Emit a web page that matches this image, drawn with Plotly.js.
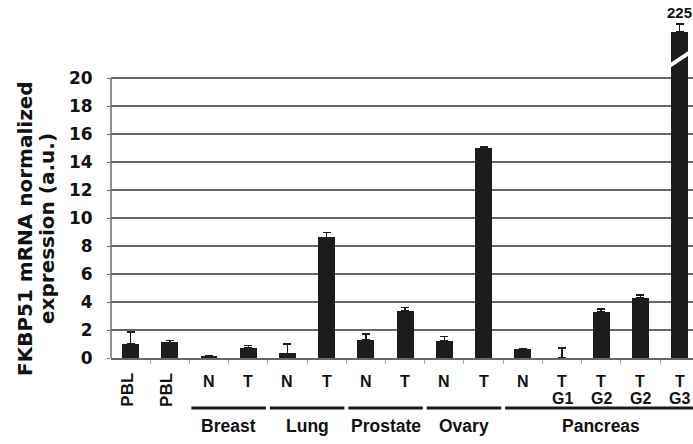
<!DOCTYPE html>
<html><head><meta charset="utf-8">
<script src="https://cdn.plot.ly/plotly-3.0.1.min.js"></script>
<style>html,body{margin:0;padding:0;background:#fff;}#chart{width:693px;height:444px;}</style>
</head><body><div id="chart"></div>
<script>
// ---- data ----
const sampleLabels = ["PBL","PBL","N","T","N","T","N","T","N","T","N","T","T","T","T"];
const subLabels    = ["","","","","","","","","","","","G1","G2","G2","G3"];
const values       = [1.0, 1.12, 0.12, 0.7, 0.33, 8.62, 1.3, 3.38, 1.22, 15.03, 0.62, 0.0, 3.3, 4.27, 225];
const errors       = [0.85, 0.12, 0.05, 0.2, 0.67, 0.36, 0.4, 0.24, 0.3, 0.08, 0.04, 0.7, 0.2, 0.22, 0.56];
const groupNames   = ["Breast","Lung","Prostate","Ovary","Pancreas"];
const groupStart   = [2, 4, 6, 8, 10];
const groupEnd     = [3, 5, 7, 9, 14];
const yTicks       = [0, 2, 4, 6, 8, 10, 12, 14, 16, 18, 20];
const yTitleLines  = ["FKBP51 mRNA normalized", "expression (a.u.)"];

// ---- style / layout constants ----
const axisBreak = 23.3;          // drawn height of bars beyond the broken axis
const gridCol = "#686868";
const tickFont = "DejaVu Sans, Verdana, sans-serif";
const labFont = "Liberation Sans, Arial, sans-serif";

const idx = values.map((v, i) => i);
const shown = values.map(v => Math.min(v, axisBreak));
const yMax = yTicks[yTicks.length - 1];

const trace = {
  type: "bar",
  x: idx,
  y: shown,
  width: 0.43,
  marker: {color: "#1c1c1c", line: {width: 0}},
  error_y: {type: "data", symmetric: false, array: errors, arrayminus: values.map(() => 0),
            color: "#1c1c1c", thickness: 1.5, width: 4},
  cliponaxis: false,
  hoverinfo: "skip"
};

const annotations = [];
const shapes = [];

// category labels
sampleLabels.forEach((t, i) => {
  if (t === "PBL") {
    annotations.push({x: i - 0.1, y: 0, xref: "x", yref: "paper", text: t, textangle: -90,
      showarrow: false, xanchor: "center", yanchor: "middle", yshift: -32,
      font: {family: labFont, size: 17, color: "#111", weight: "bold"}});
  } else {
    annotations.push({x: i, y: 0, xref: "x", yref: "paper", text: t,
      showarrow: false, xanchor: "center", yanchor: "middle", yshift: -23,
      font: {family: labFont, size: 16, color: "#111", weight: "bold"}});
  }
  if (subLabels[i]) {
    annotations.push({x: i, y: 0, xref: "x", yref: "paper", text: subLabels[i],
      showarrow: false, xanchor: "center", yanchor: "middle", yshift: -40,
      font: {family: labFont, size: 16, color: "#111", weight: "bold"}});
  }
});

// group lines + names
groupNames.forEach((g, k) => {
  shapes.push({type: "line", xref: "x", yref: "paper",
    x0: groupStart[k] - 0.45, x1: groupEnd[k] + 0.45, y0: -50 / 350, y1: -50 / 350,
    line: {color: "#1c1c1c", width: 3}});
  annotations.push({x: (groupStart[k] + groupEnd[k]) / 2, y: 0, xref: "x", yref: "paper", text: g,
    showarrow: false, xanchor: "center", yanchor: "middle", yshift: -68,
    font: {family: labFont, size: 17.5, color: "#111", weight: "bold"}});
});

// broken bars: slash + real value
values.forEach((v, i) => {
  if (v > axisBreak) {
    shapes.push({type: "line", xref: "x", yref: "y", x0: i - 0.27, x1: i + 0.27,
      y0: 20.85, y1: 21.85, line: {color: "#ffffff", width: 4}});
    annotations.push({x: i, y: shown[i] + errors[i], xref: "x", yref: "y", text: String(v),
      showarrow: false, xanchor: "center", yanchor: "bottom", yshift: 1,
      font: {family: labFont, size: 15, color: "#111", weight: "bold"}});
  }
});

// left axis line only up to top tick
shapes.push({type: "line", xref: "paper", yref: "y", x0: 0, x1: 0, y0: 0, y1: yMax,
  line: {color: gridCol, width: 1.5}});

// y title, one annotation per line
yTitleLines.forEach((t, k) => {
  annotations.push({x: 0, y: (358 - 229) / 350, xref: "paper", yref: "paper", text: t,
    textangle: -90, showarrow: false, xanchor: "center", yanchor: "middle", xshift: -86 + 22 * k,
    font: {family: tickFont, size: 20, color: "#111", weight: "bold"}});
});

const boundaries = idx.slice(0, -1).map(i => i + 0.5);

const layout = {
  width: 693, height: 444,
  margin: {l: 111, r: 0, t: 8, b: 86},
  paper_bgcolor: "#ffffff", plot_bgcolor: "#ffffff",
  showlegend: false,
  bargap: 0,
  xaxis: {type: "linear", range: [-0.5, 14.34], tickvals: boundaries, showticklabels: false,
    ticks: "outside", ticklen: 4, tickcolor: "#aaaaaa", tickwidth: 1,
    showline: true, linecolor: gridCol, linewidth: 1.5, showgrid: false, zeroline: false, fixedrange: true},
  yaxis: {range: [0, 25], tickvals: yTicks, ticktext: yTicks.map(String),
    showgrid: true, gridcolor: gridCol, gridwidth: 1.5, zeroline: false, showline: false,
    ticks: "outside", ticklen: 3, tickcolor: gridCol, ticklabelstandoff: 11,
    tickfont: {family: tickFont, size: 17, color: "#111", weight: "bold"}, fixedrange: true},
  annotations: annotations,
  shapes: shapes
};

Plotly.newPlot("chart", [trace], layout, {staticPlot: true, displayModeBar: false});
</script>
</body></html>
